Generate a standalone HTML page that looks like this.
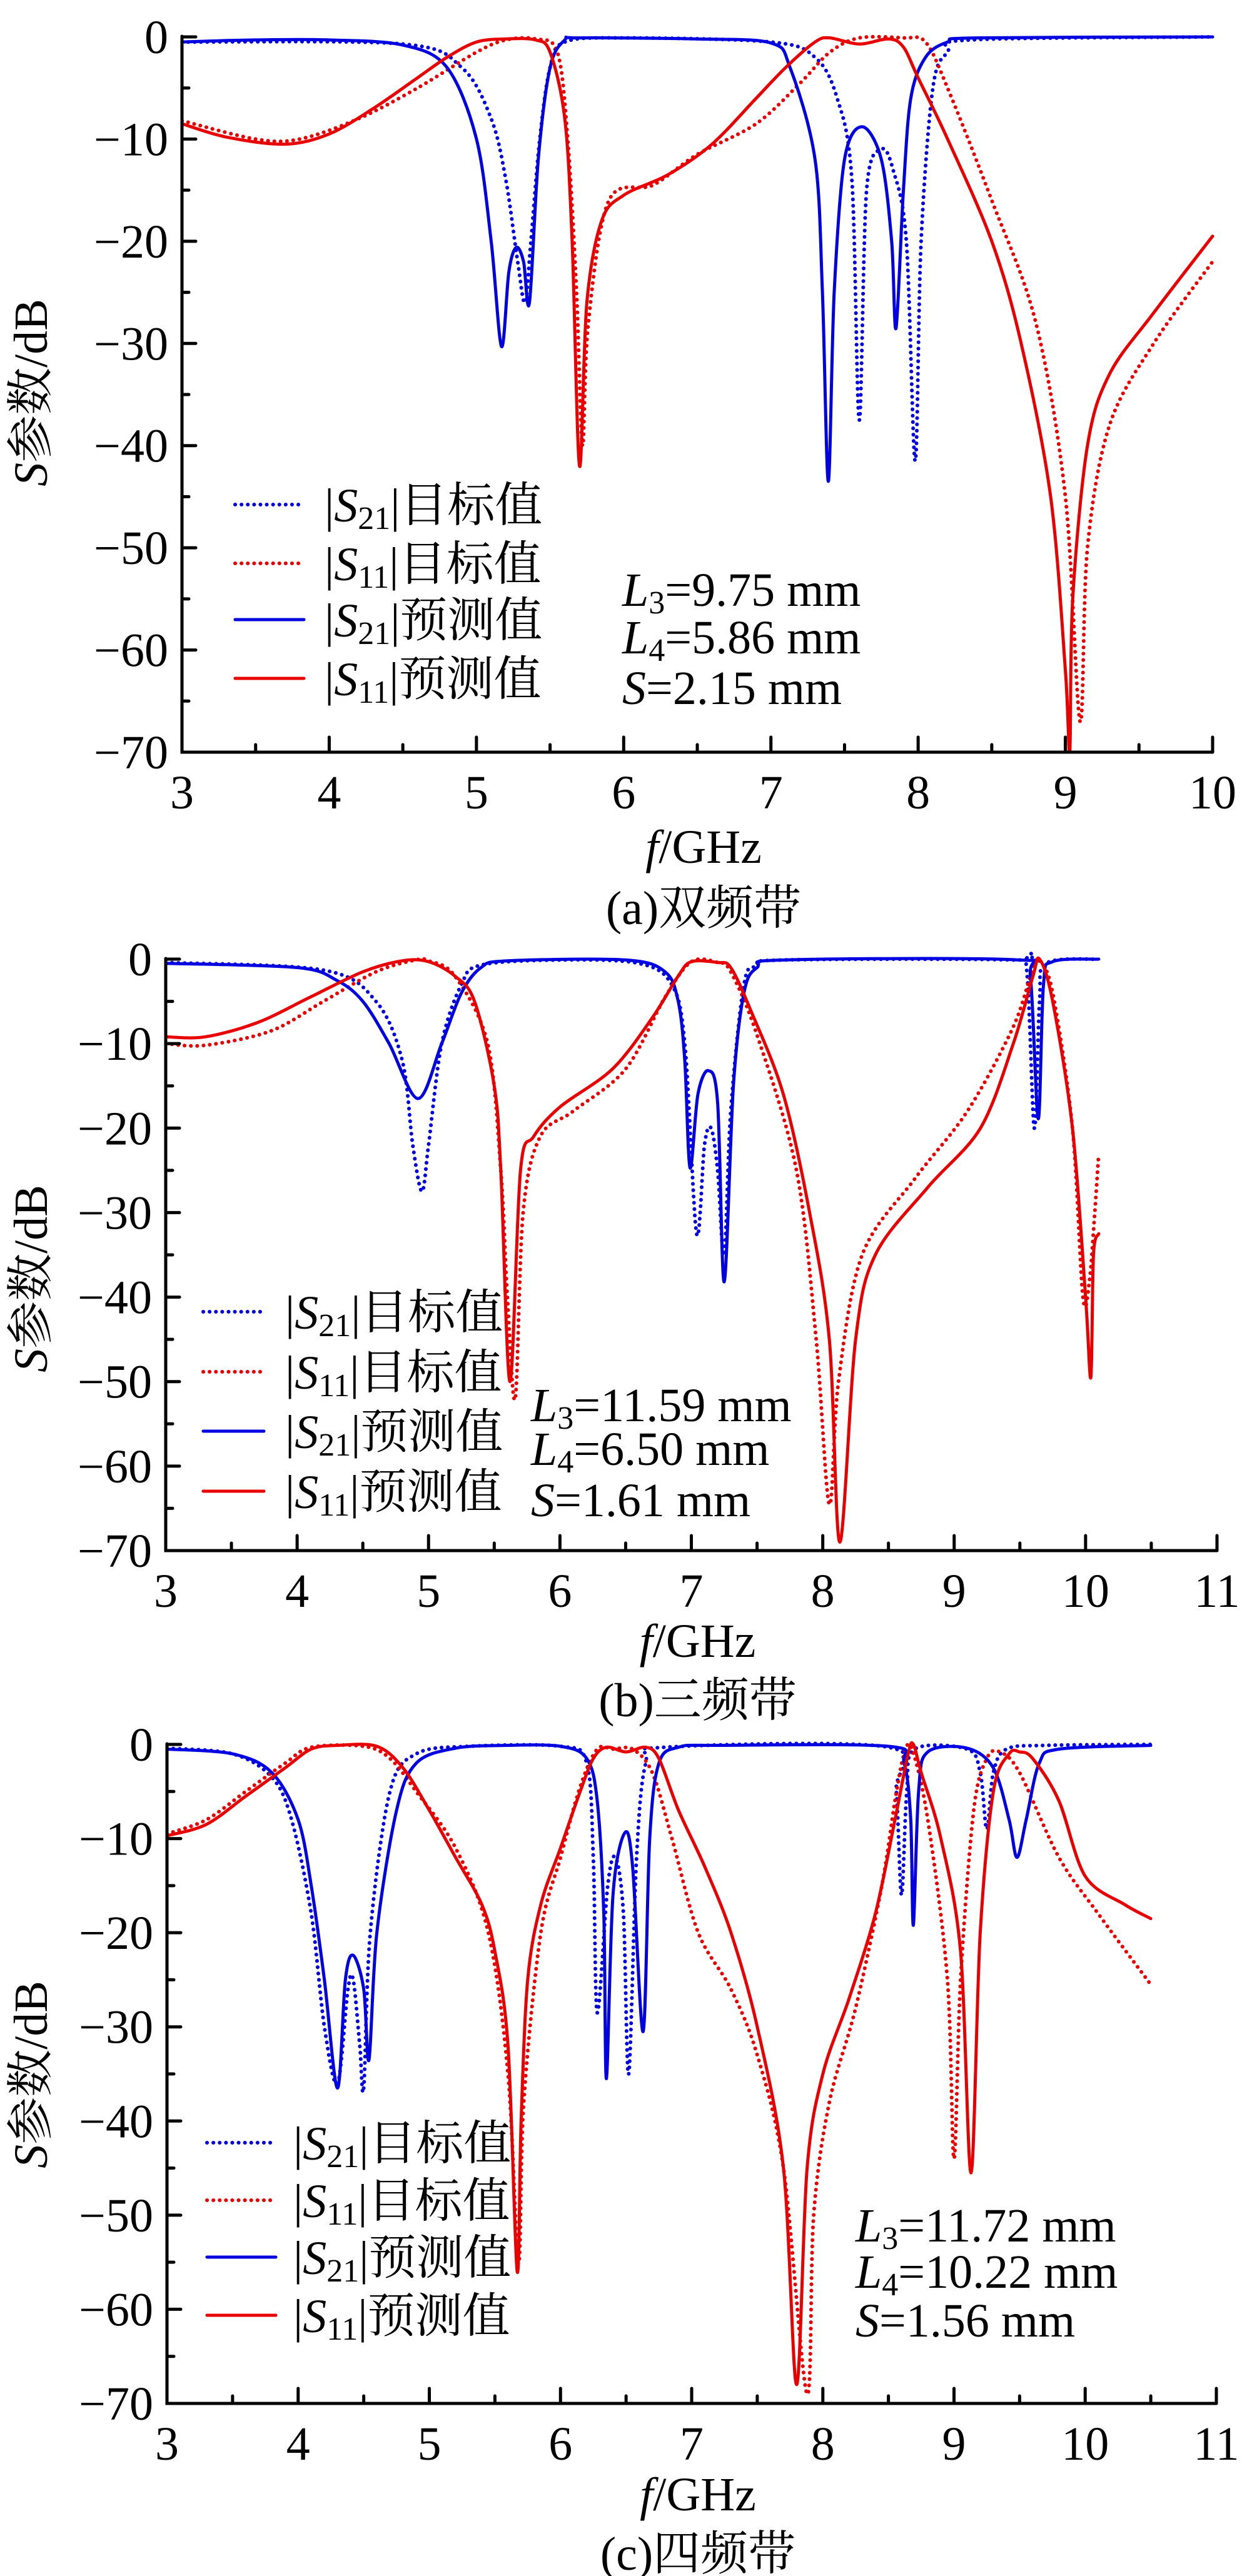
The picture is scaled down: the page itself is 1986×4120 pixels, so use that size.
<!DOCTYPE html>
<html><head><meta charset="utf-8">
<style>
html,body{margin:0;padding:0;background:#fff;}
svg{display:block;}
text{font-family:"Liberation Serif","Noto Serif CJK SC",serif;fill:#000;}
</style></head>
<body>
<svg id="chart" width="1986" height="4120" viewBox="0 0 1986 4120" xmlns="http://www.w3.org/2000/svg"></svg>
<script>
// ---- Panel (a) data ----
const aS21PredF=[3,3.5,4,4.5,4.8,5.0,5.1,5.17,5.22,5.27,5.32,5.36,5.42,5.5,5.6,5.7,6.5,7.0,7.13,7.3,7.35,7.39,7.43,7.5,7.62,7.75,7.82,7.85,7.9,7.95,8.05,8.2,8.4,10];
const aS21PredV=[-0.5,-0.3,-0.3,-0.8,-3,-10,-20,-30.3,-23,-20.6,-22,-26,-12,-3,-0.3,-0.1,-0.2,-0.6,-3,-12,-25,-43.5,-25,-12,-8.8,-12,-20,-28.5,-15,-6,-2,-0.5,-0.1,0];
const aS21TgtF=[3,4.5,4.9,5.1,5.2,5.28,5.33,5.37,5.43,5.5,5.6,6,7.0,7.3,7.45,7.55,7.6,7.65,7.75,7.83,7.92,7.98,8.02,8.1,8.2,8.35,10];
const aS21TgtV=[-0.5,-0.7,-3,-8,-14,-22,-26,-20,-10,-3,-0.5,-0.1,-0.5,-2,-6,-14,-37.5,-15,-11,-13,-20,-41.5,-20,-5,-1.5,-0.3,0];
const aS11PredF=[3,3.3,3.7,4.0,4.3,4.6,4.8,5.0,5.2,5.4,5.5,5.6,5.65,5.7,5.75,5.85,6.0,6.3,6.6,6.9,7.1,7.3,7.4,7.6,7.8,7.9,8.0,8.2,8.5,8.7,8.9,9.0,9.03,9.05,9.15,9.3,9.6,10];
const aS11PredV=[-8.5,-9.8,-10.5,-9.5,-7,-4,-2,-0.5,-0.2,-0.3,-1.5,-8,-20,-42,-26,-18,-15.5,-13.5,-10.5,-6,-3,-0.5,-0.1,-0.7,-0.2,-1,-4,-10,-20,-30,-45,-62,-70,-55,-40,-33,-27,-19.5];
const aS11TgtF=[3,3.5,3.8,4.2,4.6,5.0,5.2,5.4,5.55,5.62,5.68,5.72,5.76,5.9,6.2,6.5,6.9,7.2,7.4,7.6,7.9,8.05,8.2,8.5,8.8,9.0,9.1,9.15,9.3,9.6,10];
const aS11TgtV=[-8.2,-10,-10,-8,-5,-1.5,-0.3,-0.2,-1.5,-10,-25,-40,-28,-16,-14.5,-11.5,-8.5,-4.5,-1.5,-0.1,-0.1,-0.5,-5,-16,-28,-45,-67,-50,-38,-30,-22];
// ---- Panel (b) data ----
const bS21PredF=[3,4.0,4.3,4.5,4.7,4.92,5.1,5.25,5.4,5.6,6.5,6.8,6.9,6.95,6.99,7.05,7.13,7.2,7.25,7.32,7.4,7.5,7.7,9.5,9.58,9.64,9.68,9.75,10.1];
const bS21PredV=[-0.5,-1,-2.5,-5,-10,-16.5,-10,-4,-1,-0.2,-0.1,-1.5,-5,-12,-24.7,-16,-13.2,-17,-38.2,-15,-4,-1,-0.1,-0.1,-2,-18.9,-3,-0.3,0];
const bS21TgtF=[3,4.2,4.6,4.8,4.88,4.95,5.0,5.1,5.25,5.4,6.0,6.6,6.85,6.95,7.04,7.1,7.15,7.2,7.25,7.3,7.4,7.5,7.7,9.45,9.55,9.61,9.65,9.7,10.1];
const bS21TgtV=[-0.4,-1.3,-5,-12,-22,-27.5,-22,-10,-3,-0.7,-0.1,-0.5,-3,-10,-32.5,-22,-20,-25,-35,-18,-3,-0.8,-0.1,-0.1,-1,-20,-5,-0.5,0];
const bS11PredF=[3,3.3,3.7,4.1,4.5,4.8,5.0,5.2,5.35,5.5,5.55,5.62,5.7,5.8,6.0,6.4,6.7,6.9,7.0,7.2,7.3,7.45,7.7,7.9,8.05,8.13,8.25,8.4,8.8,9.2,9.45,9.6,9.65,9.75,9.9,10.0,10.04,10.06,10.1];
const bS11PredV=[-9.2,-9.2,-7.5,-4.5,-1.5,-0.2,-0.3,-2,-5,-15,-25,-50,-25,-21,-17.5,-13,-7,-2,-0.3,-0.4,-1,-6,-16,-30,-45,-69,-45,-35,-27,-20,-10,-2,0,-5,-20,-40,-49.5,-35,-32.5];
const bS11TgtF=[3,3.3,3.8,4.2,4.6,4.9,5.0,5.2,5.45,5.55,5.6,5.66,5.72,5.85,6.1,6.5,6.8,7.0,7.2,7.3,7.5,7.8,7.95,8.05,8.12,8.3,8.7,9.1,9.45,9.6,9.65,9.75,9.9,9.98,10.03,10.07,10.1];
const bS11TgtV=[-10,-10.2,-8.5,-5,-1.5,-0.1,-0.2,-2,-10,-25,-40,-52,-30,-21,-18,-13,-4.5,-0.3,-0.4,-1.5,-9,-25,-45,-64.5,-50,-35,-26,-18,-8,-1,-0.2,-4,-20,-40,-38,-30,-23];
// ---- Panel (c) data ----
const cS21PredF=[3,3.5,3.8,4.0,4.1,4.2,4.3,4.36,4.42,4.5,4.54,4.6,4.75,4.9,5.2,5.6,6.0,6.2,6.28,6.33,6.35,6.4,6.49,6.55,6.63,6.68,6.75,6.9,7.2,8.5,8.62,8.67,8.69,8.73,8.8,9.1,9.3,9.42,9.48,9.55,9.65,9.8,10.5];
const cS21PredV=[-0.5,-1,-3,-8,-15,-25,-36.5,-25,-22.4,-26,-33.5,-20,-7,-2,-0.4,-0.1,-0.2,-1.5,-6,-18,-35.5,-16,-9.4,-13,-30.5,-10,-2,-0.3,-0.1,-0.2,-2,-8,-19.2,-5,-0.8,-0.4,-2.5,-8,-12,-8,-2,-0.5,-0.1];
const cS21TgtF=[3,3.5,3.8,3.95,4.1,4.2,4.3,4.38,4.42,4.47,4.5,4.55,4.7,4.9,5.3,6.0,6.2,6.25,6.28,6.36,6.42,6.48,6.52,6.58,6.65,6.8,8.5,8.56,8.6,8.64,8.7,9.1,9.2,9.25,9.3,9.4,9.7,10.5];
const cS21TgtV=[-0.4,-1,-3.5,-8,-18,-30,-36,-26,-25,-32,-36.5,-20,-5,-1,-0.2,-0.2,-2,-12,-28.5,-15,-12,-18,-35,-12,-2,-0.3,-0.3,-5,-16,-5,-0.5,-0.5,-3,-9,-3,-0.5,-0.1,0];
const cS11PredF=[3,3.3,3.6,3.9,4.1,4.3,4.6,4.8,5.0,5.2,5.4,5.5,5.6,5.67,5.7,5.75,5.85,6.0,6.15,6.25,6.35,6.5,6.65,6.75,6.9,7.1,7.3,7.5,7.7,7.8,7.88,8.0,8.2,8.4,8.55,8.65,8.69,8.75,8.9,9.05,9.13,9.2,9.3,9.42,9.5,9.6,9.8,10.0,10.3,10.5];
const cS11PredV=[-9.7,-8.5,-5.5,-2.5,-0.5,-0.1,-0.2,-2.5,-7,-12,-17,-22,-32,-56,-40,-25,-17,-11,-5,-1.5,-0.3,-0.8,-0.3,-1.5,-7,-13,-20,-30,-45,-68,-45,-35,-27,-18,-8,-1,0,-3,-10,-22,-45.5,-20,-5,-1,-0.8,-1.5,-6,-14,-17,-18.5];
const cS11TgtF=[3,3.3,3.6,3.9,4.1,4.5,4.7,4.9,5.2,5.45,5.6,5.68,5.72,5.85,6.0,6.15,6.28,6.4,6.55,6.7,6.85,7.05,7.3,7.5,7.7,7.88,7.93,8.05,8.25,8.45,8.55,8.62,8.68,8.8,8.95,9.0,9.05,9.15,9.25,9.35,9.5,9.8,10.1,10.5];
const cS11TgtV=[-9.5,-8,-5,-2,-0.3,-0.2,-1.5,-5,-11,-20,-35,-55,-38,-20,-12,-4.5,-0.5,-0.5,-0.5,-3,-10,-20,-26,-33,-45,-69,-50,-38,-28,-15,-6,-1,-0.5,-8,-25,-44,-25,-7,-1.5,-0.8,-3,-12,-18,-25.5];
// ---- Axis tick labels ----
const yTickValues=[0,-10,-20,-30,-40,-50,-60,-70];
const xTicksA=[3,4,5,6,7,8,9,10];
const xTicksBC=[3,4,5,6,7,8,9,10,11];
const legendLabels=[["21","目标值"],["11","目标值"],["21","预测值"],["11","预测值"]];
const paramsA=[["3","=9.75 mm"],["4","=5.86 mm"],["","=2.15 mm"]];
const paramsB=[["3","=11.59 mm"],["4","=6.50 mm"],["","=1.61 mm"]];
const paramsC=[["3","=11.72 mm"],["4","=10.22 mm"],["","=1.56 mm"]];

const NS="http://www.w3.org/2000/svg";
const svg=document.getElementById('chart');
function mk(tag,attrs,parent){const e=document.createElementNS(NS,tag);for(const k in attrs)e.setAttribute(k,attrs[k]);(parent||svg).appendChild(e);return e;}
function smoothPath(P){
  let d='M'+P[0][0].toFixed(1)+','+P[0][1].toFixed(1);
  for(let i=0;i<P.length-1;i++){
    const p0=P[i-1]||P[i],p1=P[i],p2=P[i+1],p3=P[i+2]||P[i+1];
    const t=0.16;
    const c1=[p1[0]+(p2[0]-p0[0])*t,p1[1]+(p2[1]-p0[1])*t];
    const c2=[p2[0]-(p3[0]-p1[0])*t,p2[1]-(p3[1]-p1[1])*t];
    d+=`C${c1[0].toFixed(1)},${c1[1].toFixed(1)} ${c2[0].toFixed(1)},${c2[1].toFixed(1)} ${p2[0].toFixed(1)},${p2[1].toFixed(1)}`;
  }
  return d;
}
const BLUE="#0000e0",RED="#e80000";
const FS=76;
function panel(p){
  const g=mk('g',{});
  
  
  const sx=f=>p.x0+(f-p.fmin)/(p.fmax-p.fmin)*(p.x1-p.x0);
  const sy=v=>p.y0+(-v)/70*(p.y1-p.y0);
  const cp=mk('clipPath',{id:'clip-'+p.id},g);
  mk('rect',{x:p.x0,y:p.y0-20,width:p.x1-p.x0+10,height:p.y1-p.y0+20},cp);
  const series=[
    [p.s21tF,p.s21tV,BLUE,true,'s21-target-line'],
    [p.s11tF,p.s11tV,RED,true,'s11-target-line'],
    [p.s21pF,p.s21pV,BLUE,false,'s21-predicted-line'],
    [p.s11pF,p.s11pV,RED,false,'s11-predicted-line']];
  for(const s of series){
    const P=s[0].map((f,i)=>[sx(f),sy(s[1][i])]);
    const pl=mk('path',{d:smoothPath(P),fill:'none',stroke:s[2],'stroke-width':5,'stroke-linejoin':'round','stroke-linecap':'round','clip-path':`url(#clip-${p.id})`},g);
    if(s[3]){pl.setAttribute('stroke-dasharray','0.1 10');pl.setAttribute('stroke-width','6');}
    
    
  }
  const ax=mk('path',{d:`M${p.x0},${p.y0-1}V${p.y1}H${p.x1}`,fill:'none',stroke:'#000','stroke-width':5,'stroke-linecap':'round','stroke-linejoin':'miter'},g);
  
  
  for(let v=0;v>=-70;v-=5){const y=sy(v);const L=(v%10===0)?22:11;mk('line',{x1:p.x0,y1:y,x2:p.x0+L,y2:y,stroke:'#000','stroke-width':5,'stroke-linecap':'round'},g);}
  for(let f=p.fmin;f<=p.fmax+1e-9;f+=0.5){const x=sx(f);const L=(Math.abs(f-Math.round(f))<1e-6)?24:12;mk('line',{x1:x,y1:p.y1,x2:x,y2:p.y1-L,stroke:'#000','stroke-width':5,'stroke-linecap':'round'},g);}
  for(const v of yTickValues){const t=mk('text',{x:p.x0-22,y:sy(v)+26,'font-size':FS,'text-anchor':'end'},g);t.textContent=(v<0?'\u2212':'')+Math.abs(v);
    
    }
  for(const f of p.xt){const t=mk('text',{x:sx(f),y:p.y1+90,'font-size':FS,'text-anchor':'middle'},g);t.textContent=String(f);
    
    }
  const yt=mk('text',{x:0,y:0,'font-size':FS,'text-anchor':'middle',transform:`translate(${p.ytx},${p.ytY}) rotate(-90)`},g);
  yt.innerHTML='<tspan font-style="italic">S</tspan>参数/dB';
  
  
  const xt=mk('text',{x:(p.x0+p.x1)/2+10,y:p.xtY,'font-size':FS,'text-anchor':'middle'},g);
  xt.innerHTML='<tspan font-style="italic">f</tspan>/GHz';
  
  
  const cap=mk('text',{x:(p.x0+p.x1)/2+10,y:p.capY,'font-size':FS,'text-anchor':'middle'},g);
  cap.textContent=p.cap;
  
  
  const cols=[BLUE,RED,BLUE,RED];
  p.legY.forEach((y,i)=>{
    const le=mk('g',{},g);
    
    
    const ln=mk('line',{x1:p.legX0,y1:y,x2:p.legX1,y2:y,stroke:cols[i],'stroke-width':i<2?6:5,'stroke-linecap':'round'},le);
    if(i<2)ln.setAttribute('stroke-dasharray','0.1 10');
    const t=mk('text',{x:p.legTX,y:y+27,'font-size':FS},le);
    t.innerHTML=`|<tspan font-style="italic">S</tspan><tspan font-size="52" dy="12">${legendLabels[i][0]}</tspan><tspan dy="-12">|${legendLabels[i][1]}</tspan>`;
  });
  p.params.forEach((pr,i)=>{
    const t=mk('text',{x:p.parX,y:p.parY[i]+27,'font-size':FS},g);
    
    
    if(pr[0])t.innerHTML=`<tspan font-style="italic">L</tspan><tspan font-size="52" dy="12">${pr[0]}</tspan><tspan dy="-12">${pr[1]}</tspan>`;
    else t.innerHTML=`<tspan font-style="italic">S</tspan>${pr[1]}`;
  });
}
panel({id:'dual-band',x0:291,x1:1939,fmin:3,fmax:10,y0:59,y1:1203,xt:xTicksA,
  s21pF:aS21PredF,s21pV:aS21PredV,s21tF:aS21TgtF,s21tV:aS21TgtV,s11pF:aS11PredF,s11pV:aS11PredV,s11tF:aS11TgtF,s11tV:aS11TgtV,
  ytx:75,ytY:628,xtY:1380,capY:1478,cap:'(a)双频带',legY:[807,901,991,1085],legX0:376,legX1:486,legTX:519,params:paramsA,parX:995,parY:[942,1018,1099]});
panel({id:'tri-band',x0:265,x1:1946,fmin:3,fmax:11,y0:1534,y1:2480,xt:xTicksBC,
  s21pF:bS21PredF,s21pV:bS21PredV,s21tF:bS21TgtF,s21tV:bS21TgtV,s11pF:bS11PredF,s11pV:bS11PredV,s11tF:bS11TgtF,s11tV:bS11TgtV,
  ytx:75,ytY:2045,xtY:2650,capY:2745,cap:'(b)三频带',legY:[2098,2194,2289,2385],legX0:325,legX1:422,legTX:456,params:paramsB,parX:849,parY:[2246,2316,2398]});
panel({id:'quad-band',x0:267,x1:1945,fmin:3,fmax:11,y0:2790,y1:3844,xt:xTicksBC,
  s21pF:cS21PredF,s21pV:cS21PredV,s21tF:cS21TgtF,s21tV:cS21TgtV,s11pF:cS11PredF,s11pV:cS11PredV,s11tF:cS11TgtF,s11tV:cS11TgtV,
  ytx:75,ytY:3318,xtY:4015,capY:4110,cap:'(c)四频带',legY:[3427,3519,3610,3703],legX0:331,legX1:441,legTX:469,params:paramsC,parX:1368,parY:[3558,3632,3710]});
</script>
</body></html>
